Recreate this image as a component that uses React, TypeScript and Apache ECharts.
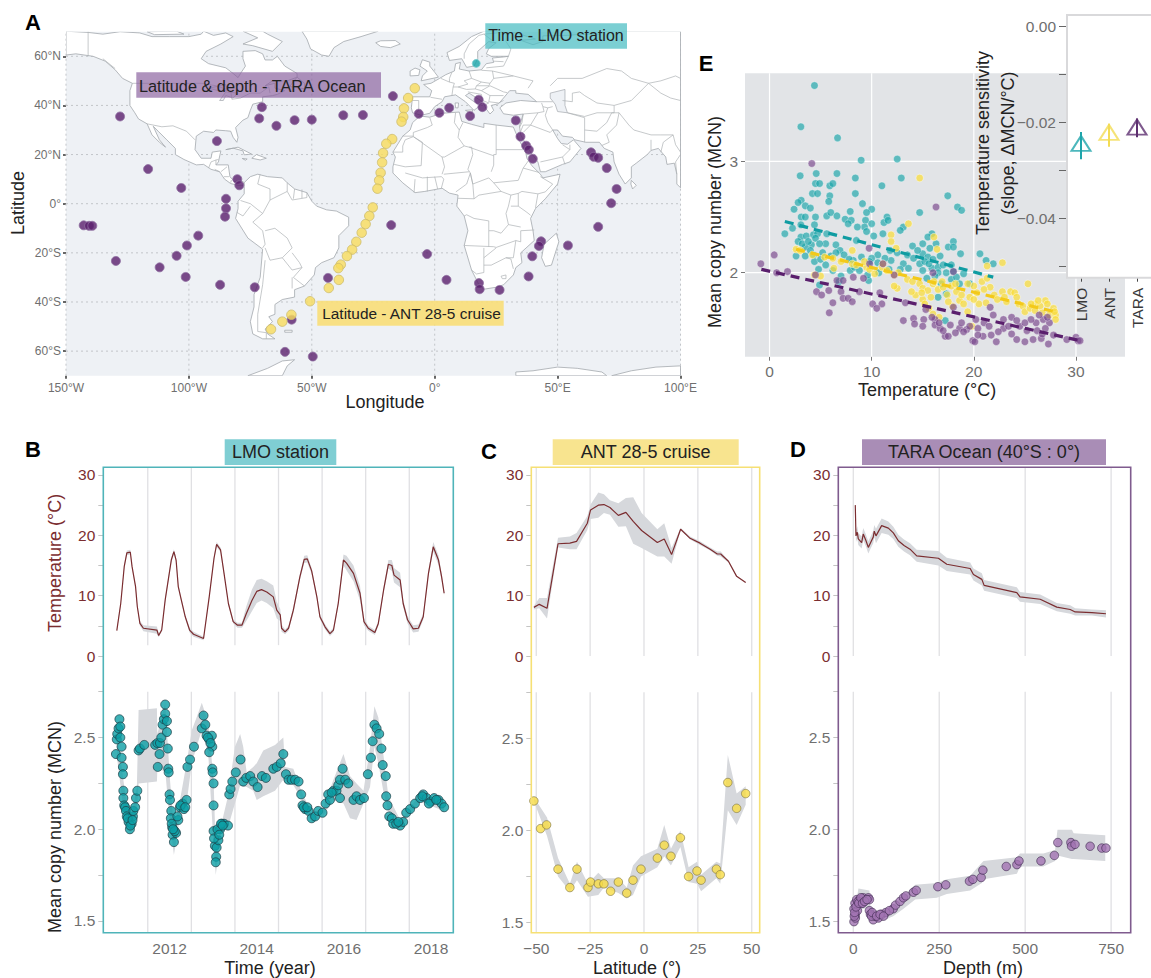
import React, { useEffect, useRef } from "react";
import * as echarts from "echarts";

const FONT = "Liberation Sans";

// ---------- Panel A ----------
const taraLon = [-128,-70.3,-71.4,-64.4,-57,-50,-37.2,-88.6,-116.6,-103.1,-80.3,-79.5,-84.9,-84.9,-85.3,-142.8,-140.6,-139.3,-96.2,-100.8,-105,-129.7,-111.9,-101.3,-87.3,-73.2,-43.4,-58.2,-60.9,-49.6,-29.2,-17,-6.5,1.9,5.9,14.4,17.9,19.4,33,34.9,37.2,38.3,39.9,63.6,64.7,66.5,70,74,71.8,-17.7,66.5,-3.1,4.8,18,18.3,26.4,38.2,39.7,43.3,42.4,54.2];
const taraLat = [35.5,39.3,34.7,31.7,34,34.2,36,25.5,14.1,6.4,10,7.5,2,-1.9,-5.3,-8.8,-9,-9,-13,-17,-21.2,-23.3,-25.9,-29.8,-33,-34,-30.2,-47.2,-60.3,-62.2,36.1,43.8,36.6,37,39,35.7,42.3,39.3,33.9,27.3,23.6,22,18.3,20.9,19.1,18.7,14.5,6,0.2,-8.7,-9.4,-20.5,-31,-32.3,-34.8,-35.1,-29.6,-21.4,-15.3,-17.2,-17];
const antLon = [-8.1,-10.8,-12.5,-12.8,-13.5,-17.3,-19.7,-21,-21.4,-22,-22.6,-23.3,-25.2,-26.6,-28.1,-29.7,-31.9,-33.6,-35.7,-38.2,-39.2,-39,-43.1,-50.7,-58.3,-62,-66.6];
const antLat = [47,43,38.8,35.3,33.4,26.3,24.4,20.6,16.8,12.6,9.5,6.1,-1.5,-5,-8.3,-11.8,-15.5,-18.7,-21.3,-24.8,-26.2,-31,-34.3,-39.7,-45.2,-48,-51.1];
const lmoLon = [16.9];
const lmoLat = [57.1];

const land: number[][][] = [
  [[-150,70.2],[-141,69.7],[-135,69],[-128,70],[-120,69.5],[-115,68],[-108,68],[-100,68],[-95,69],[-94,70.2],[-90,68.5],[-85,69.5],[-82,68],[-87,65],[-93,62],[-95,59],[-92,57],[-85,55.3],[-82,53],[-80,51.3],[-79,53],[-77,56],[-78,59],[-78,62],[-73,62.3],[-70,61],[-69,58.5],[-66,58.5],[-64,60],[-61,56],[-56,53],[-56,51.5],[-60,50],[-66,50],[-69,48],[-65,49],[-65,47],[-61,46],[-64,44.5],[-66,44],[-70,43.5],[-70,41.5],[-74,40.5],[-75,38],[-76,35],[-78,34],[-81,31],[-80,27],[-80.5,25],[-82,27],[-83,29.5],[-85,29.7],[-89,30],[-90,29],[-94,29.5],[-97,27.5],[-97.5,22],[-95,18.5],[-91,18.5],[-90.5,21],[-87,21.5],[-88,17],[-89,15.8],[-84,15.8],[-83.3,11],[-81.5,9],[-79,9.5],[-77.5,8.6],[-78,7.5],[-80,7.5],[-83,8.2],[-85.5,10],[-87.5,13],[-91,14],[-94,16],[-97,15.8],[-102,18],[-105.5,20],[-105.5,22.5],[-109,26],[-112.5,29.5],[-114.5,31.5],[-112,26],[-109.5,23],[-112,25],[-115,28],[-117,32.5],[-120.5,34.5],[-122,37],[-124,40],[-124,46],[-123,49],[-127,51],[-130,54.5],[-134,58],[-139,60],[-146,61],[-150,60.5]],
  [[-54,70.2],[-52,67],[-50.5,63],[-46,60.5],[-43,60],[-41,63.5],[-37,66],[-30,68],[-23,70.2]],
  [[-78,70.2],[-72,67.5],[-78,65],[-74,64.3],[-66,62],[-62,66],[-68,69],[-70,70.2]],
  [[-117,70],[-105,70.2],[-102,69],[-114,68.8]],
  [[-59,47.7],[-53,46.8],[-53,49],[-56,51.5]],
  [[-85,22],[-80,23],[-74.5,20.2],[-77.5,19.9],[-78,21.5],[-82,22.6]],
  [[-74.4,18.5],[-72.5,20],[-68.5,18.5],[-71,17.8]],
  [[-78.3,18.4],[-76.3,18.2],[-77,17.7]],
  [[-77.5,8.6],[-75,11],[-72,12],[-68,11],[-62,10.5],[-60,8.5],[-57,6],[-52,4.5],[-50,1],[-48,-1],[-44,-2.5],[-40,-3],[-35,-5.5],[-35,-9],[-39,-13],[-39,-18],[-41,-22],[-46,-24],[-48.5,-26],[-49,-29],[-53,-33.5],[-57,-35],[-57,-38],[-62,-39],[-65,-41],[-65,-45],[-67.5,-46],[-66,-48],[-69,-51],[-68,-53],[-65,-55],[-70,-55],[-74,-53],[-75,-48],[-73.5,-42],[-73.5,-37],[-71,-30],[-70,-18.5],[-76,-14],[-81,-6],[-80,-2],[-80,1],[-77.5,4],[-77.5,7]],
  [[-61,-51.5],[-58,-51.5],[-58,-52.3],[-61,-52.3]],
  [[-6,35.7],[-2,35.2],[3,36.8],[10,37.3],[11,33.5],[15,32.3],[20,31],[20,32.7],[25,32],[32,31.2],[32.5,30],[34,26.5],[37,21],[37.5,18.5],[39.5,15.5],[43,12],[44,10.5],[51,12],[50,8],[45,2],[41,-2],[39,-6],[40,-11],[40.5,-15],[35,-20],[35.5,-24],[33,-26],[32,-29],[28,-33],[25,-34],[20,-34.8],[18,-33],[15,-27],[12,-17],[13.5,-11],[12,-5],[9,-1],[9.5,3.5],[6,4.3],[3,6.3],[-4,5],[-8,4.5],[-13,8.5],[-17,12.5],[-17,15],[-16,19],[-17,21],[-13,27.5],[-10,30],[-9,33]],
  [[49.5,-12],[50.5,-15.5],[47.5,-25],[45,-25.5],[43.5,-22],[44.5,-16.5]],
  [[-9,37],[-9.5,39],[-9,43.5],[-2,43.5],[-1.2,46],[-4.5,48.5],[-1.5,49],[2,51],[4.5,52.5],[8,54],[8.5,57],[10.5,57.5],[10,54.8],[14,54],[19,54.5],[21,57],[24,57.5],[23.5,59.3],[28,59.7],[30,60],[23,60],[21,61],[22,63.2],[25,65.5],[22,66],[17.5,62],[17.5,59],[16,56],[13,55.5],[11,59],[6,58.3],[5,61.5],[10,64],[15,68],[20,70.2],[25,70.2],[33,69.5],[41,67],[35,66.5],[40,64.7],[44,66],[44,68.3],[54,68.5],[60,69],[67,69],[70,70.2],[100,70.2],[100,6.5],[98.5,8],[98.5,12],[97.5,16.5],[94.5,16],[94,19],[91,22.5],[88,21.7],[86.5,20],[82,16.5],[80,15],[80,10.5],[77.5,8],[75,12],[73,17],[72.5,21],[69,22.5],[67,25],[61.5,25],[57,26],[56,27],[52,27.5],[50,30],[48,30],[50,26.5],[51.5,24.5],[54,24.2],[56.5,26],[59.5,22.5],[55,17],[52,16],[45,13],[43,13],[42,17],[39,21],[35,28],[34.5,31.5],[36,36.5],[32,36],[28,36.6],[26.5,39],[29,41],[35,42],[41.5,41.5],[38,44.5],[33,45],[33,46],[30.5,46],[28,43],[26,40.7],[23,40],[24,38],[22.5,36.5],[21,38.5],[19.5,41.5],[14,45],[12.5,44],[16,41.5],[18.5,40],[16,38],[12.5,41.5],[8.5,44.3],[4,43.5],[3,41.5],[0,39.5],[-2,36.8],[-5.5,36]],
  [[80,9.5],[82,7.5],[80.5,6],[79.8,8]],
  [[-24,65.5],[-22,64],[-18,63.5],[-14,65],[-16,66.4],[-22,66.3]],
  [[-5.5,50],[1.5,51.5],[0,53.5],[-2,56],[-2,57.6],[-5,58.6],[-6,56],[-3,54],[-5,52]],
  [[-10,52],[-6.5,52.2],[-6,54.5],[-8,55.2],[-10,54]],
  [[12.5,38],[15.5,38.2],[15,36.7]],
  [[8.3,41],[9.7,41],[9.5,39],[8.5,39]],
  [[-76,-70],[-68,-67],[-62,-64],[-57,-63.5],[-60,-66],[-62,-70]],
  [[33,-70],[33,-68.5],[40,-68],[50,-66.5],[58,-67],[68,-68.5],[70,-70]],
  [[72,-70],[80,-68],[90,-66.5],[100,-66],[100,-70]],
];
const inlandSeas: number[][][] = [
  [[47,45],[53,46.5],[53,40],[54,37],[50,37.5],[49,40.5],[47,43]],
  [[-92,47],[-85,48.5],[-84.5,46],[-88,46]],
  [[-87.5,42],[-85,45.5],[-80,45],[-82,43],[-85,44],[-86,42]],
];
const borders: number[][][] = [
  [[-123,49],[-95,49],[-89,48],[-83,46],[-82.5,42.5],[-79,43],[-75,45],[-71,45],[-67.5,47.5],[-67,45]],
  [[-141,70.2],[-141,60]],
  [[-135,59],[-130,55]],
  [[-117,32.5],[-111,31.3],[-106.5,31.7],[-101,29.5],[-97.5,26]],
  [[-92,14.5],[-91,17],[-89,17.8],[-88,18]],[[-89,17.8],[-89,15.8]],[[-89.5,14],[-87.5,13]],[[-87,13],[-84.5,15]],[[-85.7,11],[-83.7,11]],[[-83,8.5],[-82.7,9.6]],
  [[-71,12],[-72,8],[-67,6],[-67,1.5],[-70,-4]],
  [[-60,8.5],[-60,5],[-67,1.5]],[[-60,5],[-58,1.5],[-52,2.5],[-52,4.5]],[[-57,6],[-57.5,2]],[[-54,5.8],[-54,2.3]],
  [[-79,1.3],[-75,0],[-70,-4]],[[-80.5,-3.5],[-78,-5],[-75,-1]],
  [[-70,-4],[-74,-7.5],[-70,-11],[-69,-16.5],[-70,-18]],
  [[-69,-11],[-65,-10],[-60,-14],[-58,-18],[-62,-22],[-67,-23],[-69,-18]],
  [[-58,-20],[-55,-24],[-54,-26],[-58,-27],[-62,-22]],
  [[-69,-23],[-70,-33],[-72,-45],[-72,-52],[-68.5,-52.5],[-68.5,-55]],
  [[-54,-26],[-57.5,-30],[-53,-33.5]],[[-58,-30],[-58,-34.5]],
  [[-13,27.5],[-8.7,27.5],[-8.7,29],[-3,31],[-1,32],[-2,35]],
  [[-17,21],[-13,21],[-13,23.5],[-12,26],[-8.7,27.3]],
  [[-8.7,27.3],[3,19],[4,19],[12,23.5],[14,23],[15,23]],
  [[8.5,37],[8,33],[10,30],[9.5,27],[12,23.5]],[[11.5,33],[10,30]],
  [[25,32],[25,20],[24,20],[24,15.7],[23,13]],[[25,22],[37,22]],[[14,23],[24,19.5]],
  [[15,23],[15.5,20],[13.5,14],[14.5,12.5],[15.5,8]],
  [[-16.5,16],[-12,15],[-5.5,15.5],[-5,25],[-8.7,27.3]],[[3,12],[4,15],[3,19]],
  [[-12,12.5],[-5,10.5],[2.8,11],[3.7,10],[2.7,6.3]],[[3.7,12],[14,13]],[[8.6,4.8],[13,8],[14.5,12.5]],
  [[-3,5],[-3,11]],[[-8.4,4.5],[-8,10]],[[1.2,6],[0,11]],
  [[14.5,12.5],[15.5,8],[22,10.5],[24,8.5],[27,5],[31,3.5]],
  [[16,2],[15.5,8]],[[9.5,2.2],[16,2],[18,3.5],[27,5]],
  [[12,-5],[13,-4.5],[16,-6],[22,-7],[22,-11],[24,-11],[27,-12],[30,-8.5],[29,-4],[30,-1],[31,3.5]],
  [[12,-17],[24,-17.5],[25,-17.8],[33,-15],[35,-15.5],[35,-11],[40.5,-10.7]],
  [[22,-11],[22,-17.5]],[[20,-18],[20,-28],[17,-28.6],[15,-27]],[[25,-18],[20,-22]],
  [[20,-25],[23,-25],[29,-22],[32,-22],[33,-15]],[[29,-22],[31,-22.5],[32,-26.5]],
  [[27,-29.5],[29,-29],[29,-30.5],[27.5,-30.5],[27,-29.5]],
  [[31,3.5],[34,4.2],[35.5,5],[42,4],[41,-1.7]],[[34,4.2],[34,-1],[37.5,-3.5],[39,-4.7]],
  [[24,8.5],[34,9.5],[36,14.5],[38.5,18]],[[36,14.5],[42.5,12.7]],[[43,11],[48,8],[45,4.8],[42,4]],
  [[31,-1],[34,-1]],[[30,-8.5],[35,-9.5]],
  [[-9,42],[-6.5,42],[-6.5,38],[-7.4,37]],[[-1.7,43.3],[3,42.5]],
  [[2.5,51],[6,49.5],[8,49],[7.5,47.5],[7,44]],[[7,53.5],[6,51],[6,49.5]],
  [[14,54],[15,51],[12,50],[13.5,48.7],[9.5,47.5],[7.5,47.5]],
  [[15,51],[19,49.5],[22.5,49],[24,51],[23.5,54],[19,54.3]],
  [[9.5,47.5],[13,46.5],[16.5,46.7],[17,48],[19,49.5]],
  [[22.5,49],[22,48],[17,48]],[[16.5,46.7],[19,46],[22.5,48]],
  [[22.5,48],[28,45.5],[29.5,45.2]],[[28,44],[22.5,44],[22,41.5],[26,41]],
  [[19,46],[22.5,44]],[[19.5,42],[22,41],[21,40.5],[20,39.7]],[[13.5,45.5],[19,44.5],[19.5,42]],
  [[24,51],[32,52],[40,50],[38,47]],[[21,55.3],[28,56],[30,60]],[[23.5,54],[32,52]],[[24,58],[28,57.8]],
  [[30,60],[31,63],[29,66],[29,69.8]],[[24,66],[20,69]],[[20,69],[25,69.5],[29,69.8]],[[12,59],[12,61],[14,65],[18,68.5],[20,69]],
  [[26,41],[28,42]],[[36,36.5],[42,37],[44.5,37.5],[44,39.5],[43.5,41]],[[41.5,41.5],[48,41.5]],
  [[34.5,31],[35.5,33],[36,36.5]],[[35,29.5],[36,32],[39,32],[42,37]],[[39,32],[47,29],[48,30]],
  [[44,39.5],[46,39],[48,39.5]],[[46,39],[45,36],[46,33],[48,30]],
  [[61,25],[61,30],[61,35],[54,37]],[[61,30],[66,29.5],[70,33],[72,37],[75,37]],
  [[52,42],[56,41.5],[56,45],[59,45.5],[61,44],[66,41],[73,40],[80,42],[87,49],[80,51],[76,54],[70,55],[60,51],[50,51],[47,48]],
  [[54,37],[61,35.5],[66,37],[73,37],[73,40]],
  [[87,49],[92,50],[98,52],[100,51]],[[87,49],[92,45],[96,43],[100,42]],
  [[75,37],[79,32],[81,30],[88,28],[92,28],[97,28],[98,24],[100,21]],
  [[68,23.7],[71,25],[70,28],[74,32],[75,37]],
  [[88,26],[88,21.7]],[[92,21],[93,25],[97,28]],[[100,20],[98,17],[98.5,12]],
  [[36,29],[39,32]],[[43,17],[52,19],[55,22],[55,24]],[[52,19],[53,16]],[[55,22],[52,24]],
];
const lonTicks = [-150,-100,-50,0,50,100];
const latTicks = [-60,-40,-20,0,20,40,60];

// ---------- Panel B ----------
const lmoTempYear = [2011.29,2011.38,2011.46,2011.52,2011.6,2011.64,2011.72,2011.76,2011.82,2011.9,2012.21,2012.25,2012.32,2012.4,2012.54,2012.6,2012.65,2012.7,2012.76,2012.86,2012.96,2013.05,2013.28,2013.41,2013.52,2013.58,2013.67,2013.75,2013.85,2013.96,2014.06,2014.16,2014.26,2014.39,2014.5,2014.61,2014.73,2014.88,2014.96,2015.04,2015.07,2015.15,2015.23,2015.34,2015.49,2015.59,2015.66,2015.76,2015.88,2015.95,2016.07,2016.18,2016.26,2016.37,2016.49,2016.56,2016.72,2016.87,2016.96,2017.06,2017.21,2017.29,2017.41,2017.52,2017.6,2017.65,2017.79,2017.86,2017.96,2018.09,2018.21,2018.32,2018.44,2018.55,2018.67,2018.74,2018.8];
const lmoTemp = [4.2,8.7,14.8,17.1,17.2,14.8,11.5,8.2,5.4,4.6,4.3,3.4,4.3,9.3,15.9,17.3,15.9,11.5,9.6,6.5,4.3,3.6,2.9,9.8,16.2,18.5,17.6,13.7,8.7,5.7,5.1,5.1,7,9.2,10.7,11,10.6,9.8,7.6,6.8,4.6,4,4.6,7.6,13.1,16,16.1,14.1,9.8,6.5,4.8,3.7,4.3,8.7,15.9,15.4,13.7,10.4,5.7,4.6,3.9,5.4,10.9,15.2,15,13.4,12.6,8.7,6,4.5,4.6,6.5,13.7,18.1,15.9,13.2,10.4];
const lmoTempSpread = [.2,.3,.4,.4,.4,.3,.3,.3,.4,.5,.6,.3,.3,.4,.4,.4,.4,.3,.3,.3,.4,.4,.3,.3,.4,.4,.4,.3,.3,.3,.4,.4,1.2,1.8,1.9,1.8,1.8,1.9,1.4,1,.6,.4,.4,.5,.5,.6,.6,.5,.4,.4,.4,.4,.4,.5,.9,1.2,1.3,1.2,.6,.4,.4,.4,.5,.7,.9,1.2,1.2,.6,.6,.6,.6,.5,.5,.8,.8,.6,.4];
const lmoMcnYear = [2011.27,2011.29,2011.3,2011.33,2011.35,2011.37,2011.37,2011.4,2011.4,2011.43,2011.43,2011.44,2011.44,2011.46,2011.48,2011.5,2011.52,2011.56,2011.59,2011.63,2011.66,2011.67,2011.71,2011.73,2011.76,2011.79,2011.82,2011.92,2012.17,2012.22,2012.27,2012.23,2012.28,2012.31,2012.34,2012.37,2012.4,2012.4,2012.44,2012.44,2012.46,2012.47,2012.48,2012.5,2012.51,2012.54,2012.53,2012.56,2012.57,2012.6,2012.65,2012.7,2012.74,2012.8,2012.83,2012.89,2012.91,2012.97,2013.06,2013.24,2013.28,2013.32,2013.35,2013.41,2013.47,2013.48,2013.41,2013.48,2013.49,2013.51,2013.51,2013.51,2013.54,2013.58,2013.57,2013.56,2013.62,2013.66,2013.7,2013.75,2013.84,2013.87,2013.9,2013.94,2014.02,2014.13,2014.19,2014.26,2014.35,2014.42,2014.52,2014.62,2014.71,2014.88,2014.96,2015.05,2015.11,2015.17,2015.23,2015.3,2015.38,2015.46,2015.52,2015.55,2015.61,2015.69,2015.76,2015.84,2015.91,2016.01,2016.08,2016.14,2016.18,2016.26,2016.33,2016.37,2016.41,2016.47,2016.53,2016.6,2016.41,2016.72,2016.79,2016.87,2016.96,2017.05,2017.12,2017.16,2017.2,2017.25,2017.31,2017.36,2017.39,2017.46,2017.47,2017.5,2017.54,2017.6,2017.63,2017.79,2017.86,2017.93,2018.02,2018.13,2018.25,2018.32,2018.4,2018.49,2018.57,2018.67,2018.74,2018.8,2011.54,2011.6,2011.65,2012.55,2012.62,2012.58,2012.68,2012.75,2012.86,2013.38,2013.44,2013.52,2013.6,2013.64,2013.68,2013.72,2015.58,2015.66,2016.22,2017.7,2017.75,2018.3,2018.45,2018.62];
const lmoMcn = [2.41,2.49,2.52,2.55,2.6,2.56,2.5,2.45,2.39,2.34,2.3,2.21,2.17,2.13,2.12,2.1,2.07,2.04,2,2.03,2.07,2.1,2.12,2.17,2.21,2.43,2.44,2.46,2.46,2.47,2.41,2.34,2.47,2.5,2.57,2.6,2.63,2.68,2.59,2.53,2.44,2.33,2.31,2.19,2.16,2.1,2.06,2.01,1.97,1.93,1.98,2.05,2.12,2.14,2.11,2.16,2.34,2.38,2.45,2.55,2.62,2.57,2.51,2.49,2.51,2.45,2.42,2.33,2.31,2.25,2.13,1.99,1.91,1.9,1.85,1.82,1.94,2,2.03,2.03,2.02,2.19,2.22,2.26,2.31,2.38,2.26,2.28,2.29,2.26,2.23,2.29,2.28,2.33,2.34,2.36,2.41,2.3,2.27,2.27,2.27,2.26,2.19,2.13,2.11,2.1,2.06,2.07,2.1,2.09,2.14,2.19,2.16,2.21,2.21,2.24,2.27,2.33,2.27,2.25,2.17,2.16,2.18,2.16,2.17,2.3,2.39,2.48,2.57,2.55,2.52,2.44,2.35,2.29,2.18,2.13,2.07,2.06,2.03,2.02,2.04,2.09,2.11,2.14,2.17,2.19,2.17,2.15,2.17,2.16,2.14,2.12,2.06,2.02,2.05,2.03,1.99,2.0,2.07,2.13,2.12,2.5,2.47,1.95,2.0,1.97,2.03,2.02,2.12,2.12,2.2,2.03,2.04,2.18,2.14,2.16];
const lmoBandYear = [2011.29,2011.44,2011.59,2011.75,2011.79,2012.21,2012.22,2012.4,2012.51,2012.6,2012.74,2012.89,2013.01,2013.12,2013.24,2013.39,2013.51,2013.56,2013.7,2013.84,2014,2014.12,2014.19,2014.27,2014.42,2014.5,2014.65,2014.92,2015.11,2015.15,2015.34,2015.52,2015.76,2016.01,2016.26,2016.49,2016.64,2016.79,2016.95,2017.1,2017.2,2017.29,2017.41,2017.52,2017.79,2018.25,2018.8];
const lmoBandHigh = [2.54,2.27,2.03,2.23,2.65,2.66,2.52,2.69,2.27,2,2.16,2.36,2.54,2.61,2.69,2.58,2.27,1.89,2.04,2.18,2.45,2.52,2.45,2.31,2.34,2.36,2.43,2.46,2.5,2.34,2.33,2.21,2.09,2.11,2.27,2.41,2.29,2.25,2.21,2.45,2.67,2.61,2.4,2.18,2.05,2.19,2.13];
const lmoBandLow = [2.4,2.11,1.98,2.09,2.25,2.26,2.32,2.32,2.03,1.86,2.07,2.14,2.36,2.45,2.54,2.4,1.92,1.75,2.01,2.01,2.14,2.24,2.23,2.23,2.21,2.16,2.18,2.21,2.27,2.25,2.24,2.17,2.04,2.07,2.16,2.14,2.06,2.05,2.14,2.23,2.45,2.36,2.2,2.1,2.01,2.15,2.1];
const yearLines = [2012,2013,2014,2015,2016,2017,2018];
const yearLabels = [2012.5,2014.5,2016.5,2018.5];

// ---------- Panel C ----------
const antTempLat = [-51.1,-48.6,-45,-39.9,-34.4,-31.3,-26.3,-24.8,-21.2,-18.6,-15.8,-11.9,-8.4,-5,-1.1,6.2,9.4,12.8,17,21.4,26,30.7,34,35.6,39.2,43,47.2];
const antTemp = [8.06,8.56,7.9,18.6,18.7,19,22,24.2,25,25.1,24.6,23.3,23.8,22.3,20.8,18.8,19.4,16.8,21,19.5,18.7,17.7,16.9,16.9,15.7,13.2,12.2];
const antTempHigh = [8.3,9.6,9.6,19.6,19.8,20.4,23.2,25.1,27.1,26.8,25.8,25.3,26.2,26.3,23.7,21,22,17.9,21.2,19.8,19,18,17.3,17.3,15.8,13.3,12.2];
const antTempLow = [7.7,7.9,6.2,18,17.7,17.7,20.9,22.7,22.9,23.7,23.4,21.4,21.5,18.6,17.9,16.5,16.5,15.3,20.9,19.3,18.4,17.5,16.6,16.5,15.5,13.1,12.1];
const antMcnLat = [-51.1,-48,-45.2,-39.9,-34.4,-31.1,-26,-24.8,-21.2,-18.6,-15.5,-11.9,-8,-5.1,-1.4,6.2,9.4,12.5,16.9,20.7,24.6,26.5,33.6,35.4,38.9,43,47.2];
const antMcn = [2.16,2.01,2.03,1.79,1.69,1.79,1.69,1.72,1.71,1.71,1.67,1.72,1.66,1.73,1.79,1.85,1.92,1.86,1.96,1.75,1.78,1.73,1.79,1.76,2.26,2.12,2.2];
const antBandLat = [-51.1,-45,-39.9,-34.4,-31.1,-26,-21.2,-18.6,-11.9,-8,-5.1,-1.4,6.2,9.4,12.5,16.9,20.7,24.6,26.5,33.6,35.4,38.9,43,47.2];
const antBandHigh = [2.18,2.07,1.85,1.71,1.83,1.71,1.77,1.74,1.74,1.69,1.81,1.86,1.9,2.03,1.9,2,1.8,1.83,1.76,1.83,1.82,2.41,2.2,2.24];
const antBandLow = [2.16,1.97,1.75,1.67,1.73,1.64,1.65,1.69,1.66,1.63,1.65,1.75,1.8,1.86,1.81,1.91,1.72,1.71,1.67,1.74,1.71,2.11,2.03,2.14];
const latLines = [-50,-25,0,25,50];

// ---------- Panel D ----------
const taraTempDepth = [5.8,7.8,11.7,14.6,24.3,29,37,43.7,50.5,58,61,66,82.5,102,116.5,131,147.6,165,184.5,247.6,272,340,349.5,374,380.6,475.7,485,543.7,592,631,645.6,694,735];
const taraTemp = [25,19.9,20.5,19.4,18.8,20.2,19.1,18,18.8,19.7,20.7,19.9,21.6,21.2,20.4,19.1,18.3,17.7,16.6,16.2,15.2,14.5,13.5,12.7,11.7,10.5,9.8,9.4,8.1,7.7,7.3,7.2,7];
const taraTempSpread = [.3,1,1,1,1,1,1,1,1,1,1,1.2,1.2,1.1,1,1,1,1,1,1.2,1.1,1,1,1,.9,.9,.8,.8,.7,.7,.6,.5,.6];
const taraMcnDepth = [2,6,6,2,5,10,12,19,29,24,37,44,47,47,50,58,63,73,83,95,116,123,136,146,153,175,183,246,269,338,348,372,377,445,476,482,546,585,595,633,635,645,689,723,735,3,4,8,14,16,22,27,33,40,53,55,68,78,88,105];
const taraMcn = [1.5,1.52,1.54,1.57,1.6,1.62,1.56,1.62,1.63,1.6,1.62,1.63,1.62,1.56,1.54,1.51,1.53,1.52,1.54,1.55,1.57,1.59,1.61,1.63,1.64,1.66,1.67,1.69,1.7,1.72,1.73,1.74,1.78,1.8,1.81,1.83,1.83,1.86,1.93,1.93,1.91,1.92,1.91,1.9,1.9,1.53,1.55,1.58,1.61,1.6,1.63,1.6,1.61,1.62,1.53,1.55,1.53,1.54,1.53,1.56];
const taraBandDepth = [2,15,47,50,78,116,146,180,243,272,340,374,379,476,485,553,587,594,636,641,733];
const taraBandHigh = [1.54,1.68,1.67,1.58,1.55,1.59,1.64,1.7,1.71,1.73,1.75,1.82,1.83,1.85,1.87,1.87,1.89,2,2,1.98,1.97];
const taraBandLow = [1.48,1.56,1.58,1.52,1.5,1.53,1.57,1.62,1.63,1.65,1.67,1.71,1.73,1.76,1.8,1.8,1.83,1.86,1.84,1.84,1.83];
const depthLines = [0,250,500,750];

// ---------- Panel E ----------
const scatterLmo = [[4.4,3.68],[3.07,3.31],[6.66,3.21],[8.97,3.01],[12.5,3.02],[12.9,2.85],[3,2.87],[4.57,2.89],[6.6,2.89],[8.4,2.85],[11,2.78],[4.5,2.8],[4.9,2.8],[5.9,2.78],[6.2,2.8],[4.2,2.71],[4.7,2.71],[5.9,2.69],[8.4,2.71],[17.45,2.69],[18.4,2.59],[18.8,2.56],[14.7,2.54],[10,2.57],[9.5,2.54],[9.1,2.62],[5.8,2.64],[3.1,2.65],[2.8,2.63],[3.5,2.6],[4,2.58],[2.4,2.57],[5.6,2.51],[6,2.54],[6.6,2.51],[7.9,2.55],[7.4,2.48],[8,2.47],[3.1,2.5],[3.5,2.5],[4.5,2.5],[11.5,2.5],[11.2,2.45],[11.6,2.47],[2.25,2.4],[3.07,2.43],[4.4,2.43],[9.4,2.47],[10,2.44],[9.3,2.41],[8.6,2.41],[7.7,2.44],[13.1,2.41],[12.8,2.38],[1.5,2.35],[3.07,2.32],[3.6,2.33],[4.3,2.34],[4.7,2.35],[5.6,2.35],[11.1,2.35],[10.2,2.33],[9.5,2.37],[8.5,2.29],[15.9,2.35],[15.5,2.32],[15,2.26],[14,2.24],[17.5,2.23],[18,2.28],[18,2.23],[18.7,2.17],[20.6,2.17],[21.2,2.11],[21.9,2.08],[2.6,2.15],[3.5,2.15],[4.1,2.25],[3.5,2.23],[4.3,2.16],[5.5,2.26],[6.5,2.25],[6.9,2.2],[5.5,2.07],[4.8,2.03],[7,1.97],[9.7,1.93],[15,2.17],[15.5,2.14],[15.7,2.22],[16.3,2.26],[14.7,2.08],[15,2.02],[15.9,2.04],[16.5,2.05],[17,2.07],[17.8,2.07],[16.5,2],[17.3,2],[18,2.01],[19,1.99],[19.6,1.9],[18.6,1.9],[17.3,1.81],[16.5,1.78],[17.2,1.57],[13.1,2.08],[11.9,2.11],[11.8,2.2],[10.6,2.16],[10,2.13],[9,2.14],[8.2,2.11],[7.9,2.02],[4.9,1.89],[2.8,2.28],[3.2,2.26],[3.8,2.28],[4.5,2.31],[4.9,2.26],[4,2.2],[5.2,2.18],[6,2.15],[6.5,2.18],[7.3,2.16],[7.8,2.12],[8.3,2.05],[6.2,2.02],[9.8,2.1],[10.6,2.09],[11.3,2.13],[12.5,2.18],[13.5,2.16],[14.1,2.13],[14.5,2.2],[15.2,2.1],[15.6,2.08],[16,2.12],[16.7,2.15],[13.6,2.04],[12.8,2.03],[11.7,2.03],[10.7,2.0],[9.6,1.98],[8.8,2.02],[6.8,1.92],[4.4,2.1],[5,2.12],[16.2,1.97],[17.8,1.94],[18.3,1.96],[15.4,1.95],[16.8,1.9]];
const scatterAnt = [[2.6,2.21],[3,2.2],[4.2,2.16],[5.4,2.14],[6.2,2.13],[7,2.1],[8.1,2.08],[8.5,2.07],[9.5,2.05],[9.8,2.03],[10.3,1.99],[11,2.05],[11.5,2.02],[12.2,1.98],[12.6,2],[13.5,1.94],[14,1.92],[14.7,1.9],[15,1.86],[15.5,1.84],[16,1.9],[16.5,1.85],[17,1.87],[17.8,1.88],[18.3,1.83],[18.6,1.75],[19,1.72],[19.6,1.78],[20,1.88],[20.3,1.82],[20.8,1.92],[21.3,1.95],[21.6,1.87],[22,1.8],[22.3,1.76],[22.8,1.83],[23.2,1.74],[23.6,1.83],[24,1.82],[24.4,1.72],[24.8,1.7],[25,1.65],[25.5,1.68],[26,1.66],[26,1.72],[26.5,1.7],[26.7,1.64],[27,1.75],[27.2,1.72],[27.4,1.62],[27.8,1.68],[28,1.62],[28,1.58],[27.9,1.65],[15.6,1.68],[16,1.63],[16.6,1.6],[17.4,1.8],[17.9,1.7],[18.8,1.8],[19.4,1.9],[19.8,1.52],[19.4,1.65],[20.5,1.72],[21.2,1.73],[15,1.76],[15.2,1.72],[14.3,1.8],[13.9,1.83],[12.5,1.86],[12.2,1.88],[11.1,2.08],[9.3,2.1],[5,1.97],[6.3,2.04],[4.4,1.98],[14.7,2.85],[13.6,2.44],[11.9,2.34],[11.9,2.28],[16.1,2.32],[8.1,2.2],[12.4,2.22],[22.8,2.09],[21.3,2.06],[25.3,1.9],[16.4,2.21],[16.1,1.92],[18.2,1.9],[25.6,1.72],[26.3,1.75],[24.2,1.78],[23,1.78],[21,1.85],[20,1.76],[17.5,1.74],[16.9,1.92],[15.8,1.78],[14.9,1.82]];
const scatterTara = [[-0.85,2.08],[0.46,2.16],[4.14,2.98],[16.3,2.59],[0.7,2],[1.76,2.01],[9.75,2.22],[4.6,1.83],[5.1,1.8],[5.85,1.64],[6.2,1.73],[5.8,1.84],[7,1.83],[7.2,1.77],[7.7,1.77],[8.1,1.74],[8.8,1.83],[6.6,1.93],[7.2,1.93],[8.2,1.96],[9.2,1.95],[4.5,1.98],[10.1,1.72],[11,1.72],[10.5,1.68],[10.8,1.82],[13.1,1.57],[14.1,1.59],[14.2,1.54],[15.1,1.58],[15,1.52],[16.2,1.58],[16.2,1.53],[17.7,1.53],[16.7,1.5],[17.2,1.43],[17.5,1.43],[18.6,1.5],[19.3,1.49],[19.9,1.39],[20.1,1.38],[20.4,1.5],[20.9,1.43],[21.7,1.44],[22.2,1.38],[22.9,1.5],[23.7,1.6],[24.2,1.4],[25,1.38],[25.8,1.4],[26.6,1.41],[27.3,1.36],[26.1,1.55],[26.8,1.58],[27.4,1.55],[27.8,1.44],[29.1,1.4],[30,1.42],[30.2,1.39],[30.4,1.39],[21.6,1.69],[21.9,1.62],[18,2.01],[18,1.69],[11.1,2.08],[15.9,1.6],[16.6,1.55],[17,1.48],[18.2,1.46],[19,1.47],[19.6,1.52],[20.4,1.44],[21,1.55],[21.5,1.52],[22.4,1.47],[23.4,1.52],[23.7,1.45],[24.5,1.52],[25.2,1.48],[25.6,1.58],[26.2,1.48],[26.7,1.45],[27,1.5],[27.2,1.6],[26.4,1.62],[25,1.55],[24.2,1.57],[22.9,1.58],[20.2,1.58],[18.8,1.55],[12.2,1.98],[13.3,1.73],[15.3,1.67],[9.8,2.08],[16,2.0]];
const fitLmoX = [1.5,21.9];
const fitLmoY = [2.46,1.96];
const fitAntX = [2.6,27.9];
const fitAntY = [2.21,1.65];
const fitTaraX = [-0.8,30.4];
const fitTaraY = [2.03,1.39];
const eTicksX = [0,10,20,30];
const eTicksY = [2,3];

// ---------- Inset ----------
const slopeGroups = ["LMO","ANT","TARA"];
const slopeValue = [-0.0244,-0.0221,-0.021];
const slopeLow = [-0.0277,-0.0251,-0.0231];
const slopeHigh = [-0.022,-0.0203,-0.0192];

// ---------- Colours ----------
const TEAL = "#0c9fa5";
const YELLOW = "#f8dc45";
const PURPLE = "#a274b3";
const MAROON = "#7b2d30";
const GREY_TXT = "#6f6f6f";

const xy = (a: number[], b: number[]) => a.map((v, i) => [v, b[i]]);

function bandSeries(xi: number, xs: number[], lo: number[], hi: number[]) {
  return {
    type: "custom", coordinateSystem: "cartesian2d", xAxisIndex: xi, yAxisIndex: xi, z: 2, silent: true, clip: true,
    data: [0],
    renderItem: (_: any, api: any) => ({
      type: "polygon",
      shape: { points: [...xs.map((x, i) => api.coord([x, hi[i]])), ...xs.map((x, i) => api.coord([x, lo[i]])).reverse()] },
      style: { fill: "#d6d8dc", stroke: "none" },
    }),
  };
}
function vLines(xi: number, vals: number[], y0: number, y1: number, style: any, z = 1) {
  return {
    type: "custom", coordinateSystem: "cartesian2d", xAxisIndex: xi, yAxisIndex: xi, z, silent: true,
    data: vals.map((_, i) => i),
    renderItem: (p: any, api: any) => {
      const a = api.coord([vals[p.dataIndex], y0]);
      const b = api.coord([vals[p.dataIndex], y1]);
      return { type: "line", shape: { x1: a[0], y1: a[1], x2: b[0], y2: b[1] }, style };
    },
  };
}
function hLines(xi: number, vals: number[], x0: number, x1: number, style: any, z = 1) {
  return {
    type: "custom", coordinateSystem: "cartesian2d", xAxisIndex: xi, yAxisIndex: xi, z, silent: true,
    data: vals.map((_, i) => i),
    renderItem: (p: any, api: any) => {
      const a = api.coord([x0, vals[p.dataIndex]]);
      const b = api.coord([x1, vals[p.dataIndex]]);
      return { type: "line", shape: { x1: a[0], y1: a[1], x2: b[0], y2: b[1] }, style };
    },
  };
}
function shapes(xi: number, list: number[][][], kind: string, style: any, z: number) {
  return {
    type: "custom", coordinateSystem: "cartesian2d", xAxisIndex: xi, yAxisIndex: xi, z, silent: true, clip: true,
    data: list.map((_, i) => i),
    renderItem: (p: any, api: any) => ({
      type: kind,
      shape: { points: list[p.dataIndex].map((c) => api.coord(c)) },
      style,
    }),
  };
}
function line(xi: number, d: number[][], color: string, width: number, z: number, type: any = "solid") {
  return {
    type: "line", xAxisIndex: xi, yAxisIndex: xi, data: d, showSymbol: false, symbol: "none", z, silent: true, clip: true,
    lineStyle: { color, width, type },
  };
}
function dots(xi: number, d: number[][], size: number, style: any, z: number) {
  return { type: "scatter", xAxisIndex: xi, yAxisIndex: xi, data: d, symbolSize: size, itemStyle: style, z, silent: true, clip: false };
}

const tempTicks = [0,5,10,15,20,25,30];
const mcnTicks = [1.5,1.75,2,2.25,2.5,2.75];
const mcnLabels = [1.5,2,2.5];

function yAxisTemp() {
  return {
    type: "value", min: 0, max: 31.27, axisLine: { show: false }, splitLine: { show: false },
    axisTick: { show: true, length: 5, lineStyle: { color: "#c4c4c4" }, customValues: tempTicks },
    axisLabel: { customValues: [0,10,20,30], color: MAROON, fontSize: 15.5, fontFamily: FONT, margin: 8 },
  };
}
function yAxisMcn(min: number, max: number) {
  return {
    type: "value", min, max, axisLine: { show: false }, splitLine: { show: false },
    axisTick: { show: true, length: 5, lineStyle: { color: "#c4c4c4" }, customValues: mcnTicks },
    axisLabel: { customValues: mcnLabels, color: GREY_TXT, fontSize: 15.5, fontFamily: FONT, margin: 8, formatter: (v: number) => v.toFixed(1) },
  };
}
function xAxisHidden(min: number, max: number) {
  return { type: "value", min, max, show: false, splitLine: { show: false } };
}
function xAxisShown(min: number, max: number, labels: number[], fmt: (v: number) => string) {
  return {
    type: "value", min, max, axisLine: { show: false }, splitLine: { show: false }, axisTick: { show: false },
    axisLabel: { customValues: labels, color: GREY_TXT, fontSize: 15.5, fontFamily: FONT, margin: 8, formatter: fmt },
  };
}

function txt(text: string, x: number, y: number, o: any = {}) {
  return {
    type: "text", x, y, rotation: o.rot ? Math.PI / 2 : 0, z: o.z ?? 30, silent: true,
    style: {
      text, align: o.align ?? "center", verticalAlign: "middle", fontFamily: FONT,
      fontSize: o.size ?? 18, fill: o.color ?? "#222", fontWeight: o.weight ?? "normal",
    },
  };
}
function strip(x: number, y: number, w: number, h: number, fill: string) {
  return { type: "rect", shape: { x, y, width: w, height: h }, z: 20, silent: true, style: { fill } };
}
function frame(x: number, y: number, w: number, h: number, stroke: string) {
  return { type: "rect", shape: { x, y, width: w, height: h }, z: 20, silent: true, style: { fill: "none", stroke, lineWidth: 1.6 } };
}

export default function App() {
  const ref = useRef<HTMLDivElement>(null);
  useEffect(() => {
    const chart = echarts.init(ref.current!, undefined, { renderer: "svg" });
    const lonFmt = (v: number) => (v === 0 ? "0°" : v < 0 ? `${-v}°W` : `${v}°E`);
    const latFmt = (v: number) => (v === 0 ? "0°" : v < 0 ? `${-v}°S` : `${v}°N`);
    const gridLine = { stroke: "#e0e0e3", lineWidth: 1.3 };

    const xAxes: any[] = [
      {
        type: "value", min: -150, max: 100, axisLine: { show: false }, splitLine: { show: false },
        axisTick: { show: true, length: 3, lineStyle: { color: "#333", width: 1.5 }, customValues: lonTicks },
        axisLabel: { customValues: lonTicks, color: GREY_TXT, fontSize: 12, fontFamily: FONT, margin: 6, formatter: lonFmt },
      },
      xAxisHidden(2010.98, 2019.01),
      xAxisShown(2010.98, 2019.01, yearLabels, (v) => String(Math.floor(v))),
      xAxisHidden(-52.3, 53.7),
      xAxisShown(-52.3, 53.7, latLines, (v) => (v < 0 ? `−${-v}` : String(v))),
      xAxisHidden(-43.6, 807),
      xAxisShown(-43.6, 807, depthLines, (v) => String(v)),
      {
        type: "value", min: -2.4, max: 34.8, axisLine: { show: false }, splitLine: { show: false },
        axisTick: { show: true, length: 4, lineStyle: { color: "#777" }, customValues: eTicksX },
        axisLabel: { customValues: eTicksX, color: GREY_TXT, fontSize: 15.5, fontFamily: FONT, margin: 7 },
      },
      {
        type: "category", data: slopeGroups, z: 11, axisLine: { show: false }, splitLine: { show: false },
        axisTick: { show: true, length: 4, alignWithLabel: true, lineStyle: { color: "#444" } },
        axisLabel: { rotate: 90, color: "#3a3a3a", fontSize: 15.5, fontFamily: FONT, margin: 10 },
      },
    ];
    const yAxes: any[] = [
      {
        type: "value", min: -70, max: 70, axisLine: { show: false }, splitLine: { show: false },
        axisTick: { show: true, length: 3, lineStyle: { color: "#333", width: 1.5 }, customValues: latTicks },
        axisLabel: { customValues: latTicks, color: GREY_TXT, fontSize: 12, fontFamily: FONT, margin: 5, formatter: latFmt },
      },
      yAxisTemp(),
      yAxisMcn(1.436, 2.75),
      yAxisTemp(),
      yAxisMcn(1.445, 2.753),
      yAxisTemp(),
      yAxisMcn(1.44, 2.75),
      {
        type: "value", min: 1.246, max: 3.79, axisLine: { show: false }, splitLine: { show: false },
        axisTick: { show: true, length: 4, lineStyle: { color: "#777" }, customValues: eTicksY },
        axisLabel: { customValues: eTicksY, color: GREY_TXT, fontSize: 15.5, fontFamily: FONT, margin: 7 },
      },
      {
        type: "value", min: -0.0524, max: 0.0024, z: 11, axisLine: { show: false }, splitLine: { show: false },
        axisTick: { show: true, length: 8, lineStyle: { color: "#666" }, customValues: [-0.05,-0.04,-0.03,-0.02,-0.01,0] },
        axisLabel: {
          customValues: [-0.04,-0.02,0], color: GREY_TXT, fontSize: 15.5, fontFamily: FONT, margin: 11,
          formatter: (v: number) => (v === 0 ? "0.00" : `−${Math.abs(v).toFixed(2)}`),
        },
      },
    ];
    [...xAxes].forEach((a, i) => { a.gridIndex = i; a.axisLine = { ...(a.axisLine || {}), onZero: false }; });
    [...yAxes].forEach((a, i) => { a.gridIndex = i; a.axisLine = { ...(a.axisLine || {}), onZero: false }; });

    const option: any = {
      animation: false,
      backgroundColor: "#fff",
      grid: [
        { left: 66, top: 31.7, width: 614.5, height: 344, show: true, backgroundColor: "#eef1f5", borderWidth: 0 },
        { left: 103.3, top: 467.3, width: 350, height: 188.7 },
        { left: 103.3, top: 691.7, width: 350, height: 241 },
        { left: 531.3, top: 467.3, width: 228.4, height: 188.7 },
        { left: 531.3, top: 691.7, width: 228.4, height: 241 },
        { left: 838.3, top: 467.3, width: 292.4, height: 188.7 },
        { left: 838.3, top: 691.7, width: 292.4, height: 241 },
        { left: 745, top: 73.3, width: 380, height: 283.4, show: true, backgroundColor: "#e2e4e7", borderWidth: 0 },
        { left: 1067, top: 15, width: 84, height: 262.7, show: true, backgroundColor: "#fff", borderWidth: 0, z: 10 },
      ],
      xAxis: xAxes,
      yAxis: yAxes,
      series: [
        // Panel A
        vLines(0, lonTicks, -70, 70, { stroke: "#c2c5c9", lineWidth: 1, lineDash: [2, 3] }),
        hLines(0, latTicks, -150, 100, { stroke: "#c2c5c9", lineWidth: 1, lineDash: [2, 3] }),
        shapes(0, land, "polygon", { fill: "#ffffff", stroke: "#a3a8ad", lineWidth: 0.8 }, 2),
        shapes(0, inlandSeas, "polygon", { fill: "#eef1f5", stroke: "#a3a8ad", lineWidth: 0.7 }, 2),
        shapes(0, borders, "polyline", { fill: "none", stroke: "#adb1b5", lineWidth: 0.7 }, 2),
        dots(0, xy(taraLon, taraLat), 9, { color: "#5a1f6d", borderColor: "#8f6ea0", borderWidth: 1 }, 4),
        dots(0, xy(antLon, antLat), 9.5, { color: "#f8dc5c", borderColor: "#cdbb6c", borderWidth: 1 }, 5),
        dots(0, xy(lmoLon, lmoLat), 8, { color: "#18a5aa", borderColor: "#7fcfd2", borderWidth: 1 }, 5),
        // Panel B
        vLines(1, yearLines, 1.8, 31.2, gridLine),
        vLines(2, yearLines, 1.44, 2.75, gridLine),
        bandSeries(1, lmoTempYear, lmoTemp.map((v, i) => v - lmoTempSpread[i]), lmoTemp.map((v, i) => v + lmoTempSpread[i])),
        line(1, xy(lmoTempYear, lmoTemp), MAROON, 1.2, 3),
        bandSeries(2, lmoBandYear, lmoBandLow, lmoBandHigh),
        dots(2, xy(lmoMcnYear, lmoMcn), 9, { color: TEAL, borderColor: "#1c3d46", borderWidth: 0.9 }, 4),
        // Panel C
        vLines(3, latLines, 0, 31.2, gridLine),
        vLines(4, latLines, 1.445, 2.75, gridLine),
        bandSeries(3, antTempLat, antTempLow, antTempHigh),
        line(3, xy(antTempLat, antTemp), MAROON, 1.2, 3),
        bandSeries(4, antBandLat, antBandLow, antBandHigh),
        dots(4, xy(antMcnLat, antMcn), 8.5, { color: YELLOW, borderColor: "#7f7440", borderWidth: 0.8 }, 4),
        // Panel D
        vLines(5, depthLines, 0, 31.2, gridLine),
        vLines(6, depthLines, 1.44, 2.75, gridLine),
        bandSeries(5, taraTempDepth, taraTemp.map((v, i) => v - taraTempSpread[i]), taraTemp.map((v, i) => v + taraTempSpread[i])),
        line(5, xy(taraTempDepth, taraTemp), MAROON, 1.2, 3),
        bandSeries(6, taraBandDepth, taraBandLow, taraBandHigh),
        dots(6, xy(taraMcnDepth, taraMcn), 8.5, { color: PURPLE, borderColor: "#3f2a50", borderWidth: 0.8 }, 4),
        // Panel E
        vLines(7, eTicksX, 1.246, 3.79, { stroke: "#ffffff", lineWidth: 1.2 }),
        hLines(7, eTicksY, -2.4, 34.8, { stroke: "#ffffff", lineWidth: 1.2 }),
        dots(7, scatterLmo, 7.5, { color: "#1ea7ab", opacity: 0.68, borderColor: "#ffffff", borderWidth: 0.5 }, 3),
        dots(7, scatterAnt, 7.5, { color: "#f9dc3c", opacity: 0.72, borderColor: "#ffffff", borderWidth: 0.6 }, 3),
        dots(7, scatterTara, 7.5, { color: "#7a4a8e", opacity: 0.68, borderColor: "#ffffff", borderWidth: 0.5 }, 3),
        line(7, xy(fitLmoX, fitLmoY), "#0f9ca2", 3.2, 4, [9, 6]),
        line(7, xy(fitAntX, fitAntY), "#f3c91a", 3.2, 4, [9, 6]),
        line(7, xy(fitTaraX, fitTaraY), "#5a1f6d", 3.2, 4, [9, 6]),
        // Inset
        {
          type: "custom", coordinateSystem: "cartesian2d", xAxisIndex: 8, yAxisIndex: 8, z: 12, silent: true,
          data: slopeGroups.map((_, i) => i),
          renderItem: (p: any, api: any) => {
            const i = p.dataIndex;
            const a = api.coord([i, slopeHigh[i]]);
            const b = api.coord([i, slopeLow[i]]);
            return {
              type: "line",
              shape: { x1: a[0], y1: a[1], x2: b[0], y2: b[1] },
              style: { stroke: ["#1fa5ab", "#f3dc55", "#5e3070"][i], lineWidth: 2 },
            };
          },
        },
        {
          type: "scatter", xAxisIndex: 8, yAxisIndex: 8, z: 13, silent: true, symbol: "triangle", symbolSize: [19, 15],
          data: slopeValue.map((v, i) => ({
            value: [i, v],
            itemStyle: { color: "none", borderWidth: 2, borderColor: ["#1fa5ab", "#f3dc55", "#5e3070"][i] },
          })),
        },
      ],
      graphic: [
        txt("A", 33, 22, { size: 22, weight: "bold", color: "#000" }),
        txt("B", 33, 449, { size: 22, weight: "bold", color: "#000" }),
        txt("C", 489, 451, { size: 22, weight: "bold", color: "#000" }),
        txt("D", 798, 449, { size: 22, weight: "bold", color: "#000" }),
        txt("E", 706, 63, { size: 22, weight: "bold", color: "#000" }),
        strip(136.3, 72.3, 244.7, 25.4, "rgba(137,96,158,0.68)"),
        txt("Latitude & depth - TARA Ocean", 139, 85.5, { size: 16.3, align: "left" }),
        strip(485.3, 23.3, 141.7, 25.4, "rgba(72,188,194,0.72)"),
        txt("Time - LMO station", 556, 35.5, { size: 16 }),
        strip(317.3, 300.7, 186.4, 25, "rgba(248,222,120,0.9)"),
        txt("Latitude - ANT 28-5 cruise", 411.5, 313.5, { size: 15.4 }),
        txt("Latitude", 18, 203, { rot: true, size: 18 }),
        txt("Longitude", 385, 402, { size: 18 }),
        frame(103.3, 467.3, 350, 465.4, "#4fb4b9"),
        frame(531.3, 467.3, 228.4, 465.4, "#f6e074"),
        frame(838.3, 467.3, 292.4, 465.4, "#7f5b8e"),
        strip(224.7, 439.3, 111.6, 25.7, "#7fced3"),
        txt("LMO station", 280.5, 452, { size: 18 }),
        strip(552.7, 439.3, 186, 25.7, "#f8e48f"),
        txt("ANT 28-5 cruise", 645.7, 452, { size: 18 }),
        strip(862, 439.3, 244, 25.7, "#a98db6"),
        txt("TARA Ocean (40°S : 0°)", 984, 452, { size: 18 }),
        txt("Temperature (°C)", 55, 563, { rot: true, size: 18, color: MAROON }),
        txt("Mean copy number (MCN)", 55, 827, { rot: true, size: 18 }),
        txt("Time (year)", 270, 968, { size: 18 }),
        txt("Latitude (°)", 637, 968, { size: 18 }),
        txt("Depth (m)", 983, 968, { size: 18 }),
        txt("Mean copy number (MCN)", 715, 222, { rot: true, size: 18 }),
        txt("Temperature (°C)", 927, 390, { size: 18 }),
        txt("Temperature sensitivity", 983, 143, { rot: true, size: 18 }),
        txt("(slope, ΔMCN/°C)", 1008, 143, { rot: true, size: 18 }),
        {
          type: "polyline", z: 25, silent: true,
          shape: { points: [[1151, 15], [1067, 15], [1067, 277.7], [1151, 277.7]] },
          style: { fill: "none", stroke: "#d9d9db", lineWidth: 2 },
        },
      ],
    };
    chart.setOption(option);
    return () => chart.dispose();
  }, []);
  return (
    <div
      ref={ref}
      style={{ position: "absolute", left: 0, top: 0, width: 1151, height: 978, background: "#fff" }}
    />
  );
}
